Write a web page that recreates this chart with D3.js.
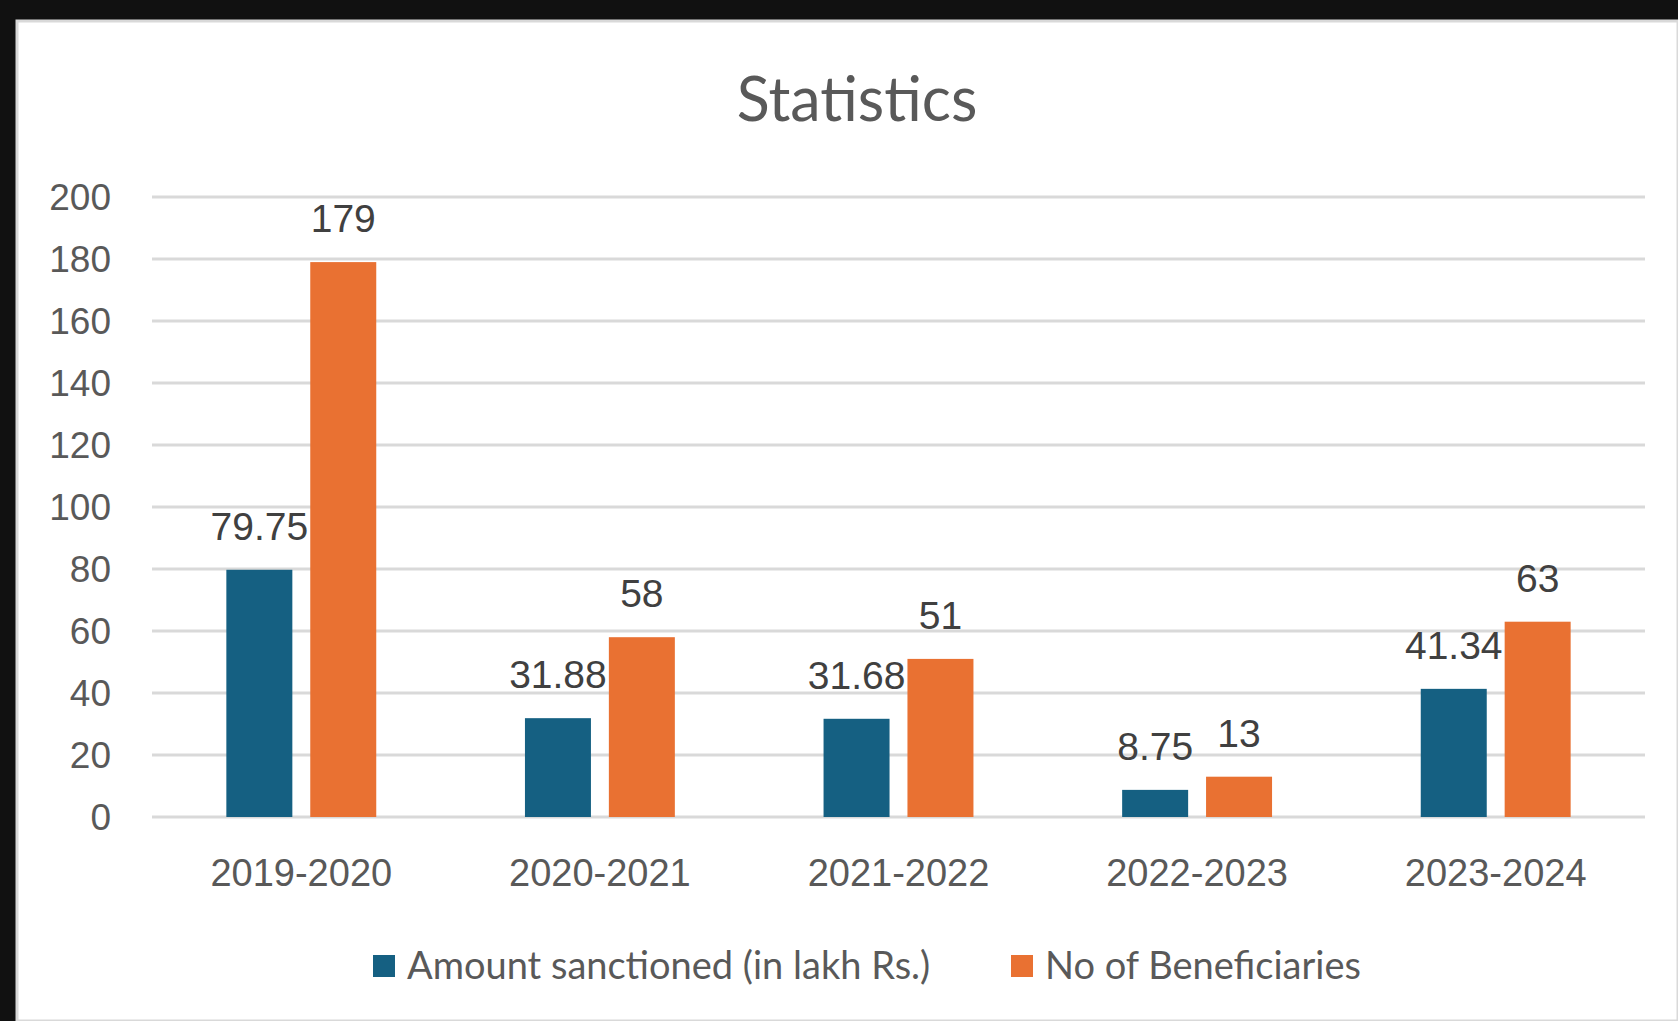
<!DOCTYPE html>
<html>
<head>
<meta charset="utf-8">
<script src="https://cdn.jsdelivr.net/npm/d3@7"></script>
<style>
body { margin:0; background:#111; }
svg { display:block; }
.num { font-family:"Liberation Sans", Arial, sans-serif; }
.soft { font-family:Lato, "Open Sans", sans-serif; }
</style>
</head>
<body>
<script>
// data
var years = ["2019-2020","2020-2021","2021-2022","2022-2023","2023-2024"];
var amount = [79.75, 31.88, 31.68, 8.75, 41.34];
var beneficiaries = [179, 58, 51, 13, 63];
var seriesNames = ["Amount sanctioned (in lakh Rs.)", "No of Beneficiaries"];
var seriesColors = ["#156082", "#E97132"];
var yTicks = [0,20,40,60,80,100,120,140,160,180,200];

var W = 1678, H = 1021;
var svg = d3.select("body").append("svg").attr("width", W).attr("height", H);

// white panel on black
svg.append("rect").attr("x",17).attr("y",21).attr("width",W-17).attr("height",H-21)
  .attr("fill","#fff").attr("stroke","#d9d9d9").attr("stroke-width",3);

var plotL = 152, plotR = 1645, plotT = 197, plotB = 817;

var x = d3.scaleBand().domain(years).range([plotL,plotR]).padding(0);
var y = d3.scaleLinear().domain([0,200]).range([plotB,plotT]);

// grid
svg.append("g").selectAll("line").data(yTicks).enter().append("line")
  .attr("x1",plotL).attr("x2",plotR)
  .attr("y1",function(d){ return y(d); }).attr("y2",function(d){ return y(d); })
  .attr("stroke","#d9d9d9").attr("stroke-width",3);

// y labels
svg.append("g").selectAll("text").data(yTicks).enter().append("text")
  .attr("class","num")
  .attr("x",111).attr("y",function(d){ return y(d); }).attr("dy","0.36em")
  .attr("text-anchor","end").attr("fill","#595959").attr("font-size",37)
  .text(function(d){ return d; });

// bars
var bw = x.bandwidth()*0.221, gap = x.bandwidth()*0.06;
var rows = years.map(function(yr,i){ return {year:yr, vals:[amount[i], beneficiaries[i]]}; });

var grp = svg.append("g").selectAll("g").data(rows).enter().append("g")
  .attr("transform",function(d){ return "translate(" + (x(d.year)+x.bandwidth()/2) + ",0)"; });

grp.selectAll("rect").data(function(d){ return d.vals; }).enter().append("rect")
  .attr("x",function(d,j){ return j===0 ? -gap/2-bw : gap/2; })
  .attr("y",function(d){ return y(d); })
  .attr("width",bw)
  .attr("height",function(d){ return plotB - y(d); })
  .attr("fill",function(d,j){ return seriesColors[j]; });

grp.selectAll("text").data(function(d){ return d.vals; }).enter().append("text")
  .attr("class","num")
  .attr("x",function(d,j){ return j===0 ? -gap/2-bw/2 : gap/2+bw/2; })
  .attr("y",function(d){ return y(d) - 30; })
  .attr("text-anchor","middle").attr("fill","#404040").attr("font-size",39)
  .text(function(d){ return d; });

// x labels
svg.append("g").selectAll("text").data(years).enter().append("text")
  .attr("class","num")
  .attr("x",function(d){ return x(d)+x.bandwidth()/2; }).attr("y",886)
  .attr("text-anchor","middle").attr("fill","#595959").attr("font-size",38)
  .text(function(d){ return d; });

// title
svg.append("text").attr("class","soft")
  .attr("x",857).attr("y",121).attr("text-anchor","middle")
  .attr("fill","#595959").attr("font-size",61)
  .text("Statistics");

// legend
var legX = [373, 1011];
var leg = svg.append("g").selectAll("g").data(seriesNames).enter().append("g")
  .attr("transform",function(d,i){ return "translate(" + legX[i] + ",966)"; });
leg.append("rect").attr("x",0).attr("y",-11).attr("width",22).attr("height",22)
  .attr("fill",function(d,i){ return seriesColors[i]; });
leg.append("text").attr("class","soft")
  .attr("x",34).attr("dy","0.35em").attr("fill","#595959").attr("font-size",38)
  .text(function(d){ return d; });
</script>
</body>
</html>
